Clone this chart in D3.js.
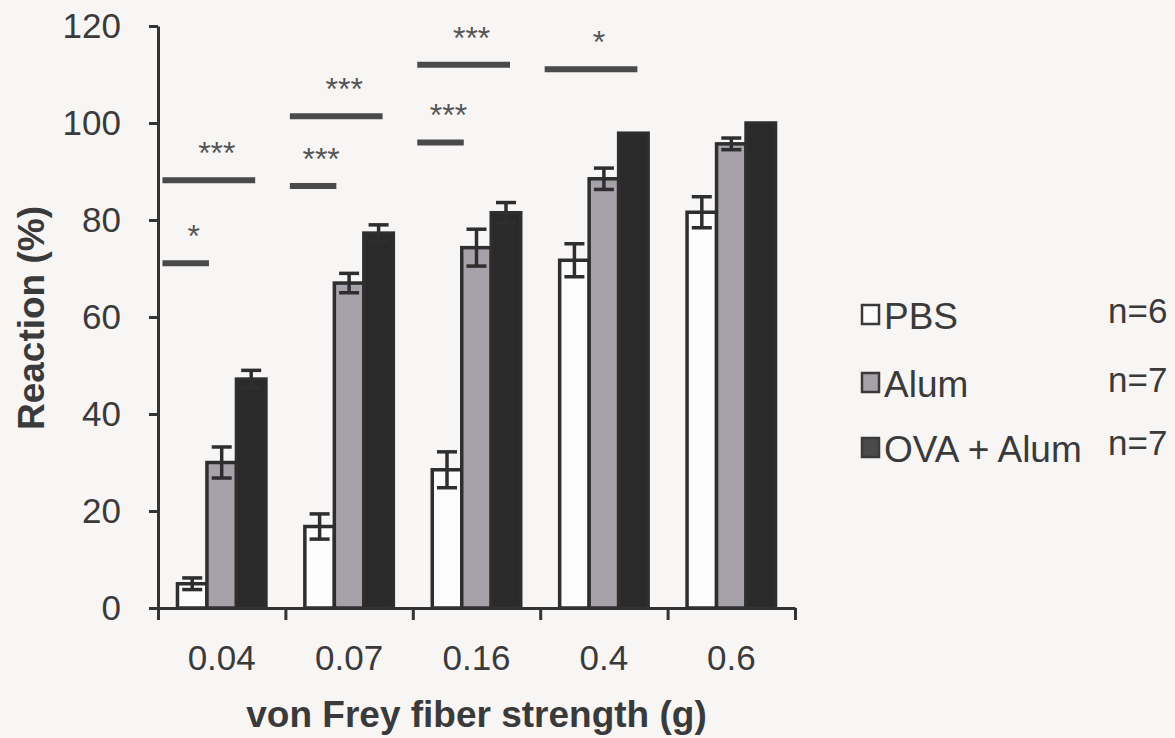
<!DOCTYPE html>
<html>
<head>
    <meta charset="utf-8">
    <script src="https://d3js.org/d3.v7.min.js"></script>
    <style type="text/css">
        body { margin: 0; background: #f8f5f5; }
        svg { display: block; font-family: "Liberation Sans", Arial, sans-serif; }
        .axis path, .axis line { stroke: #333; stroke-width: 3; }
        .axis text { fill: #3a3a3a; font-size: 35px; }
    </style>
</head>
<body>
    <script type="text/javascript">

        // data
        var categories = ["0.04", "0.07", "0.16", "0.4", "0.6"];
        var series = ["PBS", "Alum", "OVA + Alum"];
        var groupN = ["n=6", "n=7", "n=7"];

        var pbsMean  = [5, 16.8, 28.5, 71.7, 81.6];
        var pbsSem   = [1.2, 2.6, 3.7, 3.4, 3.2];
        var alumMean = [30, 67, 74.3, 88.5, 95.7];
        var alumSem  = [3.2, 2.0, 3.8, 2.2, 1.2];
        var ovaMean  = [47.2, 77.3, 81.5, 97.9, 100];
        var ovaSem   = [1.8, 1.7, 2.1, 0, 0];

        var yTicks = [0, 20, 40, 60, 80, 100, 120];

        // significance brackets: category, compared series, height, stars
        var sigCat   = ["0.04", "0.04", "0.07", "0.07", "0.16", "0.16", "0.4"];
        var sigTo    = ["Alum", "OVA + Alum", "Alum", "OVA + Alum", "Alum", "OVA + Alum", "OVA + Alum"];
        var sigY     = [71.1, 88.2, 87, 101.4, 96, 112, 111.1];
        var sigLabel = ["*", "***", "***", "***", "***", "***", "*"];

        var means = [pbsMean, alumMean, ovaMean];
        var sems = [pbsSem, alumSem, ovaSem];
        var fills = ["#fcfcfc", "#a7a2aa", "#2a2a2a"];

        var w = 1175, h = 738;
        var margin = { left: 158, top: 26 };
        var plotW = 637, plotH = 582;

        var svg = d3.select("body").append("svg")
            .attr("width", w)
            .attr("height", h);

        svg.append("rect").attr("width", w).attr("height", h).attr("fill", "#f8f5f5");

        var g = svg.append("g").attr("transform", "translate(" + margin.left + "," + margin.top + ")");

        // scales
        var x0 = d3.scaleBand().domain(categories).range([0, plotW]);
        var x1 = d3.scaleBand().domain(series).range([0, x0.bandwidth()]).paddingOuter(0.66);
        var y = d3.scaleLinear().domain([0, 120]).range([plotH, 0]);

        // bars
        var bars = [];
        categories.forEach(function(c, i) {
            series.forEach(function(s, j) {
                bars.push({ cat: c, ser: s, v: means[j][i], e: sems[j][i], fill: fills[j] });
            });
        });

        g.selectAll("rect.bar")
            .data(bars)
            .enter()
            .append("rect")
            .attr("class", "bar")
            .attr("x", function(d) { return x0(d.cat) + x1(d.ser); })
            .attr("y", function(d) { return y(d.v); })
            .attr("width", x1.bandwidth())
            .attr("height", function(d) { return plotH - y(d.v); })
            .attr("fill", function(d) { return d.fill; })
            .attr("stroke", "#2e2e2e")
            .attr("stroke-width", 3.5);

        // error bars (symmetric, SEM)
        var capW = 20;
        var errs = g.selectAll("g.err")
            .data(bars.filter(function(d) { return d.e > 0; }))
            .enter()
            .append("g")
            .attr("class", "err")
            .attr("stroke", "#2e2e2e")
            .attr("stroke-width", 3.5);

        errs.append("line")
            .attr("x1", function(d) { return x0(d.cat) + x1(d.ser) + x1.bandwidth() / 2; })
            .attr("x2", function(d) { return x0(d.cat) + x1(d.ser) + x1.bandwidth() / 2; })
            .attr("y1", function(d) { return y(d.v + d.e); })
            .attr("y2", function(d) { return y(d.v - d.e); });

        [1, -1].forEach(function(sign) {
            errs.append("line")
                .attr("x1", function(d) { return x0(d.cat) + x1(d.ser) + x1.bandwidth() / 2 - capW / 2; })
                .attr("x2", function(d) { return x0(d.cat) + x1(d.ser) + x1.bandwidth() / 2 + capW / 2; })
                .attr("y1", function(d) { return y(d.v + sign * d.e); })
                .attr("y2", function(d) { return y(d.v + sign * d.e); });
        });

        // y axis
        g.append("g")
            .attr("class", "axis")
            .call(d3.axisLeft(y).tickValues(yTicks).tickSize(9).tickSizeOuter(0).tickPadding(28));

        // x axis: ticks on category boundaries, labels in the middle
        var xEdge = d3.scaleLinear().domain([0, categories.length]).range([0, plotW]);
        g.append("g")
            .attr("class", "axis")
            .attr("transform", "translate(0," + plotH + ")")
            .call(d3.axisBottom(xEdge).ticks(categories.length).tickSize(12).tickSizeOuter(0).tickFormat(""));

        var xLab = g.append("g")
            .attr("class", "axis")
            .attr("transform", "translate(0," + plotH + ")")
            .call(d3.axisBottom(x0).tickSize(0).tickPadding(37));
        xLab.select(".domain").remove();

        // significance lines and stars
        var sig = sigCat.map(function(c, i) {
            return { cat: c, to: sigTo[i], v: sigY[i], label: sigLabel[i] };
        });

        function sigX1(d) { return x0(d.cat) + x1("PBS") - 15; }
        function sigX2(d) {
            if (d.to === "Alum") return x0(d.cat) + x1("Alum") + 2;
            return x0(d.cat) + x1(d.to) + x1.bandwidth() / 2 + 4;
        }

        g.selectAll("line.sig")
            .data(sig)
            .enter()
            .append("line")
            .attr("class", "sig")
            .attr("x1", sigX1)
            .attr("x2", sigX2)
            .attr("y1", function(d) { return y(d.v); })
            .attr("y2", function(d) { return y(d.v); })
            .attr("stroke", "#4a4a4a")
            .attr("stroke-width", 6);

        g.selectAll("text.sig")
            .data(sig)
            .enter()
            .append("text")
            .attr("class", "sig")
            .attr("x", function(d) { return (sigX1(d) + sigX2(d)) / 2 + 8; })
            .attr("y", function(d) { return y(d.v) - 16; })
            .attr("text-anchor", "middle")
            .attr("fill", "#555")
            .style("font-size", "32px")
            .text(function(d) { return d.label; });

        // axis titles
        svg.append("text")
            .attr("transform", "translate(44," + 318 + ") rotate(-90)")
            .attr("text-anchor", "middle")
            .attr("fill", "#3a3a3a")
            .style("font-size", "37px")
            .style("font-weight", "bold")
            .text("Reaction (%)");

        svg.append("text")
            .attr("x", margin.left + plotW / 2)
            .attr("y", 727)
            .attr("text-anchor", "middle")
            .attr("fill", "#3a3a3a")
            .style("font-size", "37px")
            .style("font-weight", "bold")
            .text("von Frey fiber strength (g)");

        // legend
        var legBase = [329, 397, 462];
        var nBase = [323, 392, 455];
        var legend = svg.selectAll("g.legend")
            .data(series)
            .enter()
            .append("g")
            .attr("class", "legend");

        legend.append("rect")
            .attr("x", 862)
            .attr("y", function(d, i) { return legBase[i] - 24; })
            .attr("width", 17)
            .attr("height", 19)
            .attr("fill", function(d, i) { return i === 2 ? "#4a4a4a" : fills[i]; })
            .attr("stroke", "#3a3a3a")
            .attr("stroke-width", 2.5);

        legend.append("text")
            .attr("x", 884)
            .attr("y", function(d, i) { return legBase[i]; })
            .attr("fill", "#3a3a3a")
            .style("font-size", "37px")
            .text(function(d) { return d; });

        legend.append("text")
            .attr("x", 1108)
            .attr("y", function(d, i) { return nBase[i]; })
            .attr("fill", "#3a3a3a")
            .style("font-size", "35px")
            .text(function(d, i) { return groupN[i]; });

    </script>
</body>
</html>
